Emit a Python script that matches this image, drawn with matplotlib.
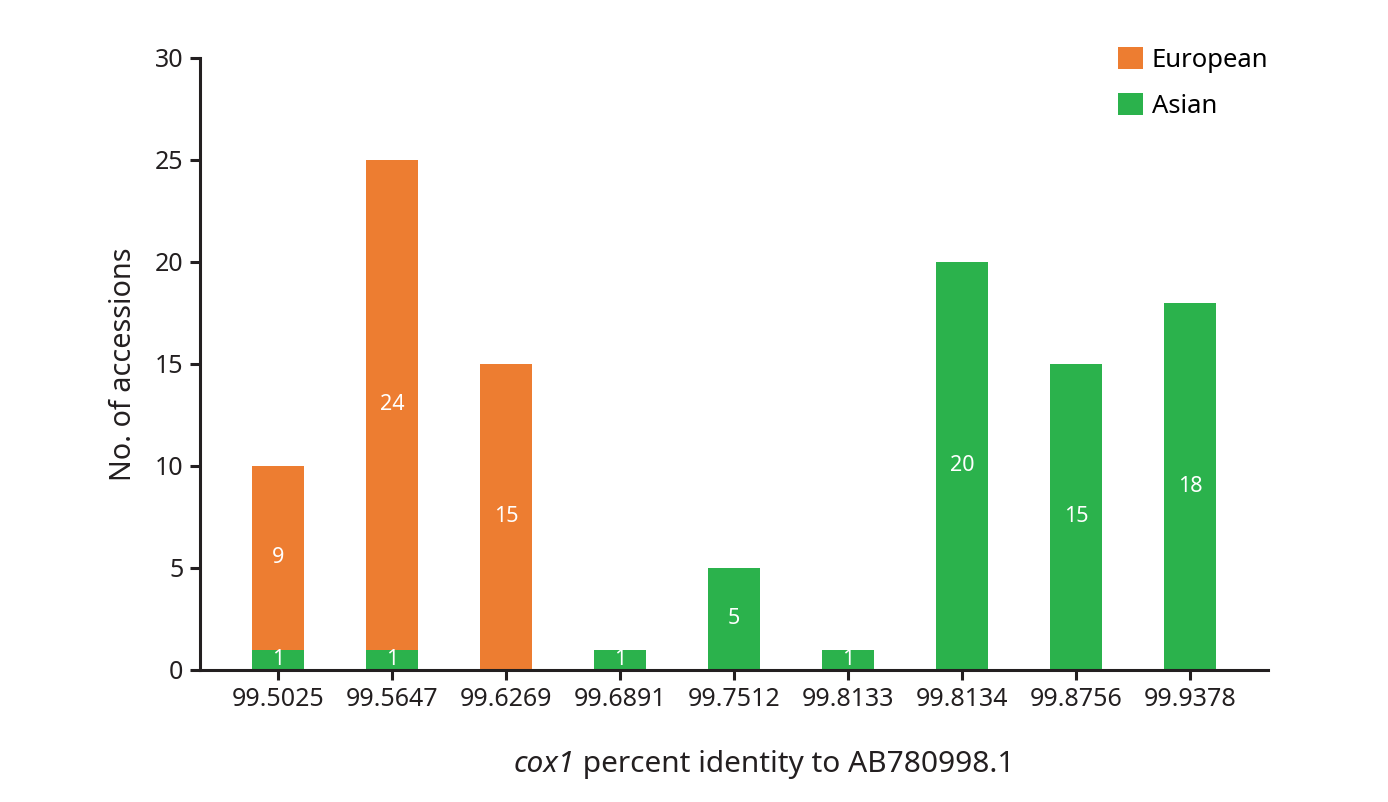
import matplotlib.pyplot as plt
import numpy as np

plt.rcParams['font.family'] = ['Noto Sans', 'DejaVu Sans']

# identity categories and accession counts
categories = ["99.5025", "99.5647", "99.6269", "99.6891", "99.7512",
              "99.8133", "99.8134", "99.8756", "99.9378"]
asian = [1, 1, 0, 1, 5, 1, 20, 15, 18]
european = [9, 24, 15, 0, 0, 0, 0, 0, 0]

orange = "#ED7D31"
green = "#2BB24C"
dark = "#231f20"

fig = plt.figure(figsize=(13.88, 8.02), dpi=100)
ax = fig.add_axes([0.1441, 0.1646, 0.7694, 0.7631])

x = np.arange(len(categories))
w = 0.46
ax.bar(x, asian, w, color=green, label="Asian")
ax.bar(x, european, w, bottom=asian, color=orange, label="European")

# value labels inside the segments
for i in range(len(x)):
    if asian[i] > 0:
        ax.text(x[i], asian[i] / 2, str(asian[i]), ha="center", va="center",
                color="white", fontsize=15.5)
    if european[i] > 0:
        ax.text(x[i], asian[i] + european[i] / 2, str(european[i]),
                ha="center", va="center", color="white", fontsize=15.5)

ax.set_xlim(-0.684, 8.684)
ax.set_ylim(0, 30)
ax.set_yticks([0, 5, 10, 15, 20, 25, 30])
ax.set_xticks(x)
ax.set_xticklabels(categories)

for s in ["top", "right"]:
    ax.spines[s].set_visible(False)
for s in ["left", "bottom"]:
    ax.spines[s].set_linewidth(2.2)
    ax.spines[s].set_color(dark)
ax.tick_params(axis="both", length=7, width=2.2, color=dark,
               labelsize=18, labelcolor=dark, pad=5)

ax.set_ylabel("No. of accessions", fontsize=20.7, color=dark, labelpad=12)

# x label: italic gene name followed by plain text
t1 = fig.text(0.5, 0.0, "cox1", fontsize=21.5, style="italic", color=dark)
t2 = ax.annotate(" percent identity to AB780998.1", xy=(1, 0), xycoords=t1,
                 va="bottom", ha="left", fontsize=21.5, color=dark)
fig.canvas.draw()
r = fig.canvas.get_renderer()
tw = t1.get_window_extent(r).width + t2.get_window_extent(r).width
t1.set_position(((764 - tw / 2) / 1388, 0.038))

handles, labels = ax.get_legend_handles_labels()
ax.legend(handles[::-1], labels[::-1], loc="upper right", frameon=False,
          fontsize=18.5, handlelength=0.95, handleheight=0.95, handletextpad=0.35,
          labelspacing=0.8, borderaxespad=0, bbox_to_anchor=(1.01, 1.035))

fig.savefig("out.png", dpi=100)
